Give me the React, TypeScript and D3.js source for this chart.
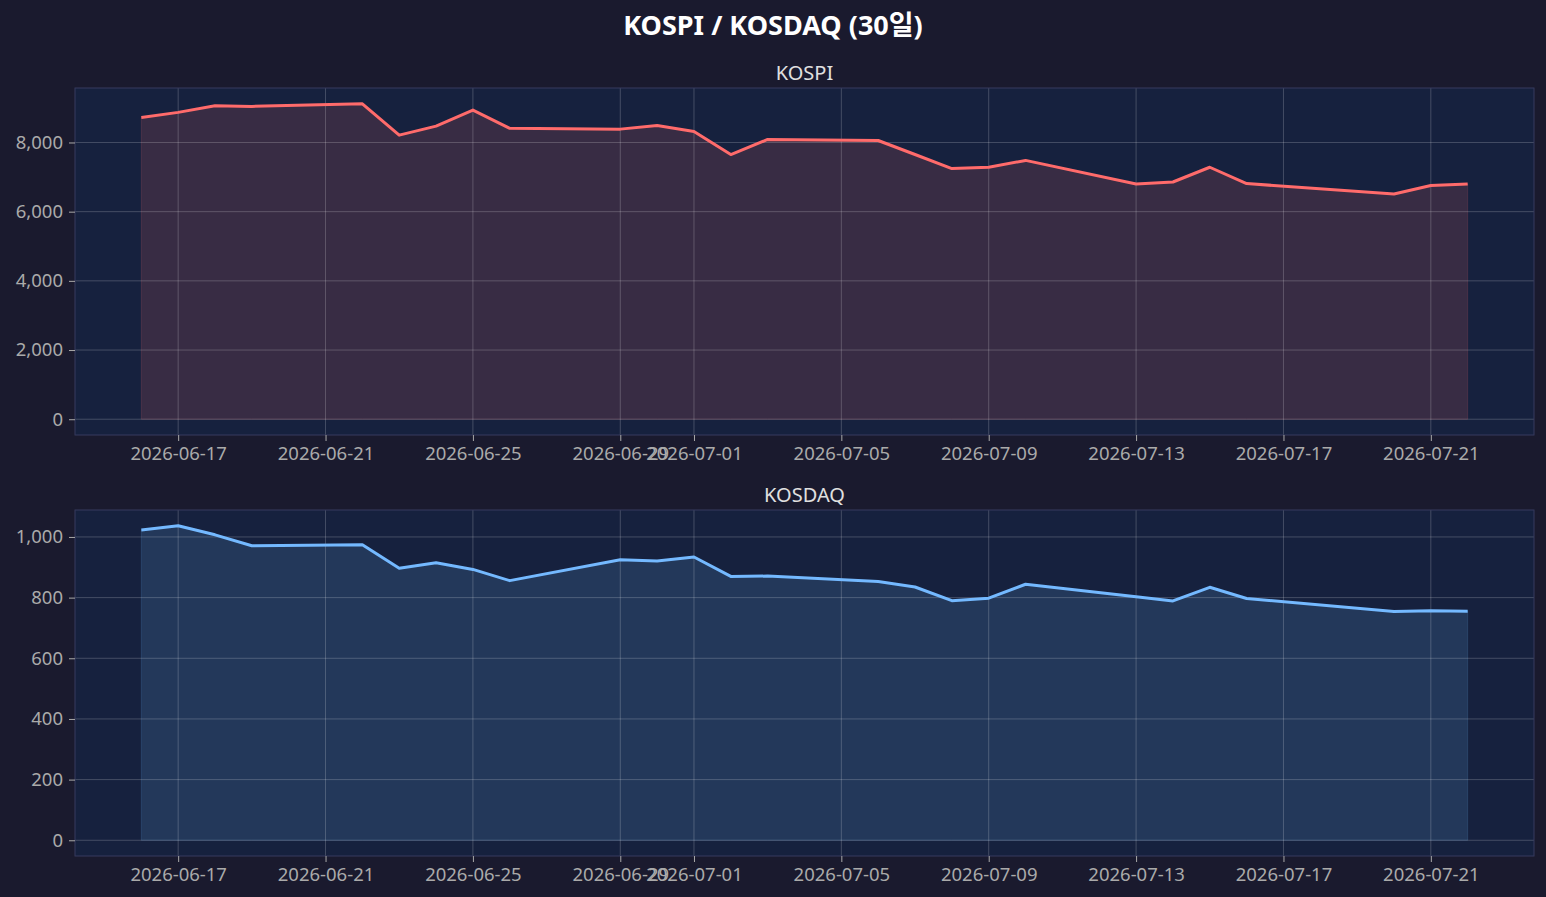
import { useEffect, useRef } from 'react'
import * as d3 from 'd3'

// trading days shown on both panels
const dates = [
  '2026-06-16', '2026-06-17', '2026-06-18', '2026-06-19',
  '2026-06-22', '2026-06-23', '2026-06-24', '2026-06-25', '2026-06-26',
  '2026-06-29', '2026-06-30', '2026-07-01', '2026-07-02', '2026-07-03',
  '2026-07-06', '2026-07-07', '2026-07-08', '2026-07-09', '2026-07-10',
  '2026-07-13', '2026-07-14', '2026-07-15', '2026-07-16',
  '2026-07-20', '2026-07-21', '2026-07-22',
]

const kospi = [
  8725, 8870, 9061, 9043,
  9119, 8212, 8472, 8936, 8410,
  8386, 8493, 8319, 7652, 8087,
  8058, 7652, 7246, 7284, 7482,
  6800, 6858, 7284, 6812,
  6510, 6754, 6800,
]

const kosdaq = [
  1023, 1037, 1007, 971,
  974, 897, 915, 893, 856,
  925, 921, 934, 870, 871,
  853, 835, 790, 798, 844,
  803, 789, 834, 797,
  754, 757, 755,
]

const xTicks = [
  '2026-06-17', '2026-06-21', '2026-06-25', '2026-06-29', '2026-07-01',
  '2026-07-05', '2026-07-09', '2026-07-13', '2026-07-17', '2026-07-21',
]
const kospiTicks = [0, 2000, 4000, 6000, 8000]
const kosdaqTicks = [0, 200, 400, 600, 800, 1000]

const FONT = '"Noto Sans", "Noto Sans CJK KR", sans-serif'

export default function App() {
  const svgRef = useRef<SVGSVGElement>(null)

  useEffect(() => {
    if (!svgRef.current) return

    const width = 1546
    const height = 897
    const parse = d3.utcParse('%Y-%m-%d')
    const fmtDate = d3.utcFormat('%Y-%m-%d')
    const days = dates.map(d => parse(d) as Date)

    const svg = d3.select(svgRef.current)
    svg.selectAll('*').remove()
    svg.attr('width', width).attr('height', height)

    svg.append('rect')
      .attr('width', width)
      .attr('height', height)
      .attr('fill', '#1a1a2e')

    svg.append('text')
      .attr('x', 773)
      .attr('y', 35)
      .attr('text-anchor', 'middle')
      .attr('fill', '#ffffff')
      .attr('font-family', FONT)
      .attr('font-weight', 'bold')
      .attr('font-size', 27)
      .text('KOSPI / KOSDAQ (30일)')

    // matplotlib-like 5% margins on x
    const t0 = days[0].getTime()
    const t1 = days[days.length - 1].getTime()
    const pad = (t1 - t0) * 0.05
    const left = 75
    const right = 1534

    const panels = [
      { title: 'KOSPI', values: kospi, ticks: kospiTicks, color: '#ff6b6b', top: 88, bottom: 435 },
      { title: 'KOSDAQ', values: kosdaq, ticks: kosdaqTicks, color: '#74b9ff', top: 510, bottom: 856 },
    ]

    panels.forEach(p => {
      const x = d3.scaleUtc()
        .domain([new Date(t0 - pad), new Date(t1 + pad)])
        .range([left, right])
      const maxV = d3.max(p.values) as number
      const y = d3.scaleLinear()
        .domain([-0.05 * maxV, 1.05 * maxV])
        .range([p.bottom, p.top])

      const g = svg.append('g')

      g.append('rect')
        .attr('x', left)
        .attr('y', p.top)
        .attr('width', right - left)
        .attr('height', p.bottom - p.top)
        .attr('fill', '#16213e')

      const pts = days.map((d, i) => ({ d, v: p.values[i] }))

      // area to zero
      const area = d3.area<{ d: Date; v: number }>()
        .x(d => x(d.d))
        .y0(y(0))
        .y1(d => y(d.v))
      g.append('path')
        .datum(pts)
        .attr('d', area)
        .attr('fill', p.color)
        .attr('fill-opacity', 0.15)
        .attr('stroke', p.color)
        .attr('stroke-opacity', 0.15)
        .attr('stroke-width', 1)

      // grid
      const tickDates = xTicks.map(s => parse(s) as Date)
      g.selectAll('.vgrid')
        .data(tickDates)
        .enter()
        .append('line')
        .attr('x1', d => x(d))
        .attr('x2', d => x(d))
        .attr('y1', p.top)
        .attr('y2', p.bottom)
        .attr('stroke', '#ffffff')
        .attr('stroke-opacity', 0.2)
        .attr('stroke-width', 1)
      g.selectAll('.hgrid')
        .data(p.ticks)
        .enter()
        .append('line')
        .attr('x1', left)
        .attr('x2', right)
        .attr('y1', d => y(d))
        .attr('y2', d => y(d))
        .attr('stroke', '#ffffff')
        .attr('stroke-opacity', 0.2)
        .attr('stroke-width', 1)

      // line
      const line = d3.line<{ d: Date; v: number }>()
        .x(d => x(d.d))
        .y(d => y(d.v))
      g.append('path')
        .datum(pts)
        .attr('d', line)
        .attr('fill', 'none')
        .attr('stroke', p.color)
        .attr('stroke-width', 3)
        .attr('stroke-linejoin', 'round')

      // spines
      g.append('rect')
        .attr('x', left)
        .attr('y', p.top)
        .attr('width', right - left)
        .attr('height', p.bottom - p.top)
        .attr('fill', 'none')
        .attr('stroke', '#363a5e')
        .attr('stroke-width', 1)

      // x axis
      const xAxis = g.append('g')
        .attr('transform', `translate(0,${p.bottom})`)
        .call(d3.axisBottom(x).tickValues(tickDates).tickFormat(d => fmtDate(d as Date)).tickSize(6).tickPadding(6))
      xAxis.select('.domain').remove()
      xAxis.selectAll('.tick line').attr('stroke', '#aaaaaa')
      xAxis.selectAll('.tick text')
        .attr('fill', '#aaaaaa')
        .attr('font-family', FONT)
        .attr('font-size', 18.5)

      // y axis
      const yAxis = g.append('g')
        .attr('transform', `translate(${left},0)`)
        .call(d3.axisLeft(y).tickValues(p.ticks).tickFormat(d3.format(',')).tickSize(6).tickPadding(6))
      yAxis.select('.domain').remove()
      yAxis.selectAll('.tick line').attr('stroke', '#aaaaaa')
      yAxis.selectAll('.tick text')
        .attr('fill', '#aaaaaa')
        .attr('font-family', FONT)
        .attr('font-size', 18.5)

      g.append('text')
        .attr('x', (left + right) / 2)
        .attr('y', p.top - 8)
        .attr('text-anchor', 'middle')
        .attr('fill', '#e0e0e0')
        .attr('font-family', FONT)
        .attr('font-size', 20)
        .text(p.title)
    })
  }, [])

  return (
    <div style={{ position: 'absolute', left: 0, top: 0 }}>
      <svg ref={svgRef} style={{ display: 'block' }} />
    </div>
  )
}
